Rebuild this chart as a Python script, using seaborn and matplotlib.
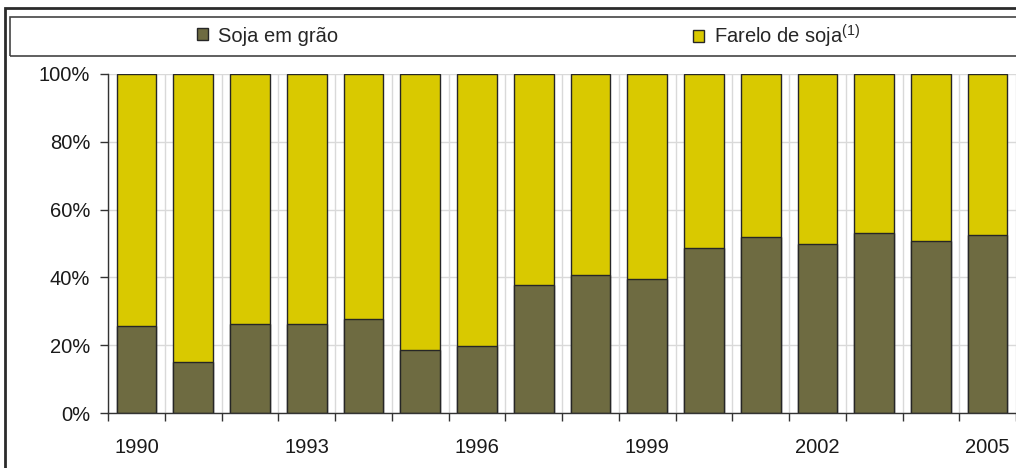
import matplotlib
matplotlib.use("Agg")
import matplotlib.pyplot as plt
import seaborn as sns
import pandas as pd
from matplotlib.patches import Rectangle, Patch

years = [str(y) for y in range(1990, 2006)]
soja_em_grao = [25.7, 14.9, 26.2, 26.2, 27.8, 18.6, 19.8, 37.9, 40.7, 39.5,
                48.7, 51.9, 49.8, 53.1, 50.8, 52.5]
farelo = [100 - v for v in soja_em_grao]
label_years = ["1990", "1993", "1996", "1999", "2002", "2005"]
yticks = [0, 20, 40, 60, 80, 100]

dark = "#6E6B41"
yellow = "#D9C900"
edge = "#262626"

sns.set_theme(style="white")
plt.rcParams["font.family"] = ["Liberation Sans", "DejaVu Sans"]
plt.rcParams["mathtext.fontset"] = "custom"
plt.rcParams["mathtext.rm"] = "Liberation Sans"
plt.rcParams["mathtext.it"] = "Liberation Sans"

df = pd.DataFrame({"ano": years, "soja": soja_em_grao,
                   "total": [s + f for s, f in zip(soja_em_grao, farelo)]})

fig = plt.figure(figsize=(10.16, 4.68), dpi=100)
ax = fig.add_axes([0.1065, 0.1175, 0.8935, 0.7245])

sns.barplot(data=df, x="ano", y="total", color=yellow, saturation=1, width=0.7,
            edgecolor=edge, linewidth=1.0, ax=ax, zorder=3)
sns.barplot(data=df, x="ano", y="soja", color=dark, saturation=1, width=0.7,
            edgecolor=edge, linewidth=1.0, ax=ax, zorder=4)

n = len(years)
ax.set_xlim(-0.5, n - 0.5)
ax.set_ylim(0, 100)
ax.set_xlabel("")
ax.set_ylabel("")

ax.set_xticks([i - 0.5 for i in range(n + 1)])
ax.set_xticklabels([])
ax.set_xticks([years.index(y) for y in label_years], minor=True)
ax.set_xticklabels(label_years, minor=True)
ax.tick_params(axis="x", which="major", direction="out", length=6, width=1,
               color="#333333", bottom=True)
ax.tick_params(axis="x", which="minor", length=0, pad=18, labelsize=14.5,
               labelcolor="#1a1a1a")

ax.set_yticks(yticks)
ax.set_yticklabels([f"{v}%" for v in yticks])
ax.tick_params(axis="y", direction="out", length=6, width=1, color="#333333",
               left=True, labelsize=14.5, labelcolor="#1a1a1a", pad=7)

ax.grid(True, which="major", axis="both", color="#D9D9D9", linewidth=1.0, zorder=0)
ax.set_axisbelow(True)
for s in ["top", "right"]:
    ax.spines[s].set_visible(False)
for s in ["left", "bottom"]:
    ax.spines[s].set_color("#333333")
    ax.spines[s].set_linewidth(1.0)
    ax.spines[s].set_zorder(5)

W, H = 1016, 468
fig.patches.append(Rectangle((5 / W, -0.05), 1.2, 1 - 8 / H + 0.05,
                             transform=fig.transFigure, fill=False,
                             edgecolor="#2b2b2b", linewidth=2.0))
fig.patches.append(Rectangle((10 / W, 1 - 56 / H), 1.2, 39 / H,
                             transform=fig.transFigure, fill=False,
                             edgecolor="#444444", linewidth=1.2))

h1 = Patch(facecolor=dark, edgecolor=edge, linewidth=1.0)
h2 = Patch(facecolor=yellow, edgecolor=edge, linewidth=1.0)
fig.legend([h1], ["Soja em grão"], loc="center left",
           bbox_to_anchor=(189 / W, 1 - 36 / H), frameon=False, fontsize=14.5,
           handlelength=0.55, handleheight=0.55, handletextpad=0.5, borderaxespad=0)
fig.legend([h2], ["Farelo de soja$^{(1)}$"], loc="center left",
           bbox_to_anchor=(685 / W, 1 - 36 / H), frameon=False, fontsize=14.5,
           handlelength=0.55, handleheight=0.55, handletextpad=0.5, borderaxespad=0)

fig.savefig("out.png", dpi=100)
